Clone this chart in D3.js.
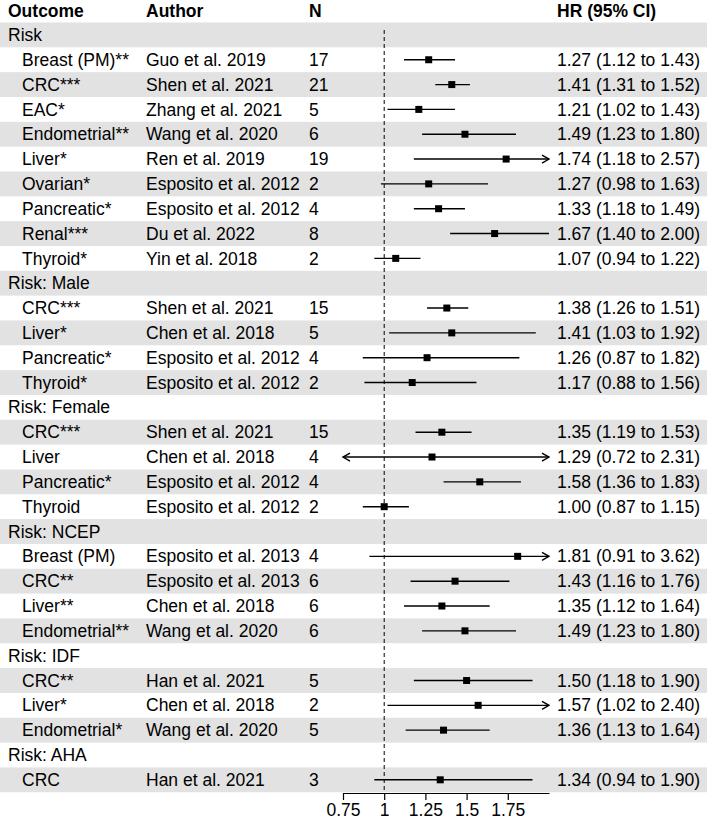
<!DOCTYPE html>
<html>
<head>
<meta charset="utf-8">
<script src="https://cdn.jsdelivr.net/npm/d3@7"></script>
<style>
  body { margin: 0; background: #fff; }
  text { font-family: "Liberation Sans", Arial, Helvetica, sans-serif; fill: #000; }
</style>
</head>
<body>
<div id="chart"></div>
<script>
// rows of the table, group headers have no author / values
var outcome = ["Risk", "Breast (PM)**", "CRC***", "EAC*", "Endometrial**", "Liver*", "Ovarian*", "Pancreatic*", "Renal***", "Thyroid*",
  "Risk: Male", "CRC***", "Liver*", "Pancreatic*", "Thyroid*",
  "Risk: Female", "CRC***", "Liver", "Pancreatic*", "Thyroid",
  "Risk: NCEP", "Breast (PM)", "CRC**", "Liver**", "Endometrial**",
  "Risk: IDF", "CRC**", "Liver*", "Endometrial*",
  "Risk: AHA", "CRC"];
var isGroup = [1,0,0,0,0,0,0,0,0,0, 1,0,0,0,0, 1,0,0,0,0, 1,0,0,0,0, 1,0,0,0, 1,0];
var author = ["", "Guo et al. 2019", "Shen et al. 2021", "Zhang et al. 2021", "Wang et al. 2020", "Ren et al. 2019", "Esposito et al. 2012", "Esposito et al. 2012", "Du et al. 2022", "Yin et al. 2018",
  "", "Shen et al. 2021", "Chen et al. 2018", "Esposito et al. 2012", "Esposito et al. 2012",
  "", "Shen et al. 2021", "Chen et al. 2018", "Esposito et al. 2012", "Esposito et al. 2012",
  "", "Esposito et al. 2013", "Esposito et al. 2013", "Chen et al. 2018", "Wang et al. 2020",
  "", "Han et al. 2021", "Chen et al. 2018", "Wang et al. 2020",
  "", "Han et al. 2021"];
var nStudies = ["", "17", "21", "5", "6", "19", "2", "4", "8", "2",
  "", "15", "5", "4", "2",
  "", "15", "4", "4", "2",
  "", "4", "6", "6", "6",
  "", "5", "2", "5",
  "", "3"];
var hr = [null, 1.27, 1.41, 1.21, 1.49, 1.74, 1.27, 1.33, 1.67, 1.07,
  null, 1.38, 1.41, 1.26, 1.17,
  null, 1.35, 1.29, 1.58, 1.00,
  null, 1.81, 1.43, 1.35, 1.49,
  null, 1.50, 1.57, 1.36,
  null, 1.34];
var lower = [null, 1.12, 1.31, 1.02, 1.23, 1.18, 0.98, 1.18, 1.40, 0.94,
  null, 1.26, 1.03, 0.87, 0.88,
  null, 1.19, 0.72, 1.36, 0.87,
  null, 0.91, 1.16, 1.12, 1.23,
  null, 1.18, 1.02, 1.13,
  null, 0.94];
var upper = [null, 1.43, 1.52, 1.43, 1.80, 2.57, 1.63, 1.49, 2.00, 1.22,
  null, 1.51, 1.92, 1.82, 1.56,
  null, 1.53, 2.31, 1.83, 1.15,
  null, 3.62, 1.76, 1.64, 1.80,
  null, 1.90, 2.40, 1.64,
  null, 1.90];
var xTicks = [0.75, 1, 1.25, 1.5, 1.75];

var width = 709, height = 821;
var fontSize = 17.5;
var xMin = 0.75, xMax = 2.0;

var svg = d3.select("#chart").append("svg")
  .attr("width", width)
  .attr("height", height);

var idx = d3.range(outcome.length);

var y = d3.scaleBand()
  .domain(idx)
  .range([22.5, 22.5 + 24.83 * outcome.length]);

var x = d3.scaleLinear()
  .domain([xMin, xMax])
  .range([343, 549]);

// zebra bands
svg.append("g").selectAll("rect")
  .data(idx.filter(function(i) { return i % 2 === 0; }))
  .enter().append("rect")
  .attr("x", 0)
  .attr("width", 707)
  .attr("y", function(i) { return y(i); })
  .attr("height", y.bandwidth())
  .attr("fill", "#e2e2e2");

// header
var header = [["Outcome", 8], ["Author", 146], ["N", 309], ["HR (95% CI)", 557]];
svg.append("g").selectAll("text")
  .data(header)
  .enter().append("text")
  .attr("x", function(d) { return d[1]; })
  .attr("y", 11)
  .attr("dy", "0.35em")
  .attr("font-size", fontSize)
  .attr("font-weight", "bold")
  .text(function(d) { return d[0]; });

// table columns
var cols = svg.append("g").attr("font-size", fontSize);
function column(values, xpos) {
  cols.append("g").selectAll("text")
    .data(idx)
    .enter().append("text")
    .attr("x", xpos)
    .attr("y", function(i) { return y(i) + y.bandwidth() / 2; })
    .attr("dy", "0.35em")
    .text(values);
}
column(function(i) { return outcome[i]; }, function(i) { return isGroup[i] ? 8 : 22; });
column(function(i) { return author[i]; }, 146);
column(function(i) { return nStudies[i]; }, 309);
column(function(i) {
  if (hr[i] === null) return "";
  return hr[i].toFixed(2) + " (" + lower[i].toFixed(2) + " to " + upper[i].toFixed(2) + ")";
}, 557);

// reference line at HR = 1
svg.append("line")
  .attr("x1", x(1)).attr("x2", x(1))
  .attr("y1", 30).attr("y2", 793)
  .attr("stroke", "#000")
  .attr("stroke-width", 1)
  .attr("stroke-dasharray", "4,3");

// CIs
var est = idx.filter(function(i) { return hr[i] !== null; });
var ci = svg.append("g");
est.forEach(function(i) {
  var cy = y(i) + y.bandwidth() / 2;
  var l = Math.max(lower[i], xMin), u = Math.min(upper[i], xMax);
  ci.append("line")
    .attr("x1", x(l)).attr("x2", x(u))
    .attr("y1", cy).attr("y2", cy)
    .attr("stroke", "#000")
    .attr("stroke-width", 1.4);
  if (upper[i] > xMax) {
    ci.append("path")
      .attr("d", "M" + (x(u) - 7) + "," + (cy - 4) + "L" + x(u) + "," + cy + "L" + (x(u) - 7) + "," + (cy + 4))
      .attr("fill", "none").attr("stroke", "#000").attr("stroke-width", 1.4);
  }
  if (lower[i] < xMin) {
    ci.append("path")
      .attr("d", "M" + (x(l) + 7) + "," + (cy - 4) + "L" + x(l) + "," + cy + "L" + (x(l) + 7) + "," + (cy + 4))
      .attr("fill", "none").attr("stroke", "#000").attr("stroke-width", 1.4);
  }
  ci.append("rect")
    .attr("x", x(hr[i]) - 3.5)
    .attr("y", cy - 3.5)
    .attr("width", 7)
    .attr("height", 7)
    .attr("fill", "#000");
});

// x axis
var axis = svg.append("g")
  .attr("transform", "translate(0,793)")
  .call(d3.axisBottom(x).tickValues(xTicks).tickFormat(d3.format("")).tickSize(7).tickSizeOuter(0));
axis.select(".domain").attr("stroke-width", 1.2);
axis.selectAll(".tick line").attr("stroke-width", 1.2);
axis.selectAll(".tick text")
  .attr("font-size", fontSize)
  .attr("font-family", "Liberation Sans, Arial, sans-serif")
  .attr("y", 11);
</script>
</body>
</html>
